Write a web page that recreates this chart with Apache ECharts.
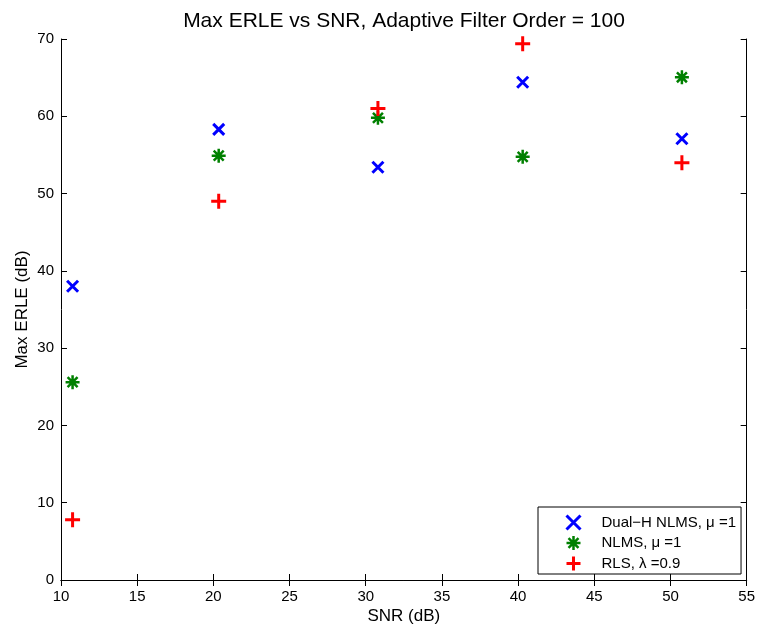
<!DOCTYPE html>
<html>
<head>
<meta charset="utf-8">
<script src="https://cdn.jsdelivr.net/npm/echarts@6/dist/echarts.min.js"></script>
<style>html,body{margin:0;padding:0;background:#fff;}#c{width:758px;height:630px;}</style>
</head>
<body>
<div id="c"></div>
<script>
const snr = [10.76, 20.35, 30.8, 40.3, 50.75];
const dualH = [38.0, 58.3, 53.4, 64.4, 57.1];
const nlms = [25.6, 54.9, 59.8, 54.75, 65.05];
const rls = [7.8, 49.0, 61.0, 69.4, 54.0];
const seriesNames = ['Dual\u2212H NLMS, \u03bc =1', 'NLMS, \u03bc =1', 'RLS, \u03bb =0.9'];
const xTicks = [10, 15, 20, 25, 30, 35, 40, 45, 50, 55];
const yTicks = [0, 10, 20, 30, 40, 50, 60, 70];

const FONT = 'Liberation Sans, Arial, Helvetica, sans-serif';
const pairs = (ys) => snr.map((x, i) => [x, ys[i]]);

const xSym = 'path://M0,0 L16,16 M16,0 L0,16';
const starSym = 'path://M8,0 L8,16 M0,8 L16,8 M2.3,2.3 L13.7,13.7 M13.7,2.3 L2.3,13.7';
const plusSym = 'path://M8,0 L8,16 M0,8 L16,8';

const colors = ['#0000ff', '#008000', '#ff0000'];
const symbols = [xSym, starSym, plusSym];
const sizes = [11, 14, 15];
const widths = [3, 2.5, 3];

const baseAxis = {
  axisLine: { show: true, lineStyle: { color: '#000', width: 1 } },
  axisTick: { show: true, inside: true, length: 6, lineStyle: { color: '#000' } },
  splitLine: { show: false }
};

const chart = echarts.init(document.getElementById('c'), null, { renderer: 'canvas' });
chart.setOption({
  backgroundColor: '#fff',
  animation: false,
  textStyle: { fontFamily: FONT },
  title: {
    text: 'Max ERLE vs SNR, Adaptive Filter Order = 100',
    left: 399, top: 6, textAlign: 'center',
    textStyle: { fontFamily: FONT, fontSize: 21, fontWeight: 'normal', color: '#000' }
  },
  grid: { left: 61, top: 39, right: 9, bottom: 47, containLabel: false },
  legend: {
    orient: 'vertical',
    left: 538, top: 507,
    backgroundColor: '#fff',
    borderColor: '#000', borderWidth: 1, borderRadius: 0,
    padding: [6, 5, 1, 26],
    itemWidth: 46, itemHeight: 14, itemGap: 1.5,
    textStyle: { fontFamily: FONT, fontSize: 15, lineHeight: 14, color: '#000' },
    data: seriesNames.map((n, i) => ({
      name: n,
      icon: symbols[i],
      itemStyle: { color: 'none', borderColor: colors[i], borderWidth: widths[i], opacity: 1 }
    }))
  },
  xAxis: [
    Object.assign({}, baseAxis, {
      type: 'value', min: 10, max: 55, interval: 5, position: 'bottom',
      name: 'SNR (dB)', nameLocation: 'middle', nameGap: 28, nameMoveOverlap: false,
      nameTextStyle: { fontFamily: FONT, fontSize: 17, color: '#000' },
      axisLabel: { fontFamily: FONT, fontSize: 15, color: '#000', margin: 9 }
    }),
    Object.assign({}, baseAxis, {
      type: 'value', min: 10, max: 55, interval: 5, position: 'top',
      axisLabel: { show: false }
    })
  ],
  yAxis: [
    Object.assign({}, baseAxis, {
      type: 'value', min: 0, max: 70, interval: 10, position: 'left',
      name: 'Max ERLE (dB)', nameLocation: 'middle', nameGap: 30, nameMoveOverlap: false,
      nameTextStyle: { fontFamily: FONT, fontSize: 17, color: '#000' },
      axisLabel: { fontFamily: FONT, fontSize: 15, color: '#000', margin: 7 }
    }),
    Object.assign({}, baseAxis, {
      type: 'value', min: 0, max: 70, interval: 10, position: 'right',
      axisLabel: { show: false }
    })
  ],
  series: [dualH, nlms, rls].map((ys, i) => ({
    name: seriesNames[i], type: 'scatter', data: pairs(ys),
    symbol: symbols[i], symbolSize: sizes[i],
    itemStyle: { color: 'none', borderColor: colors[i], borderWidth: widths[i], opacity: 1 }
  }))
});
</script>
</body>
</html>
